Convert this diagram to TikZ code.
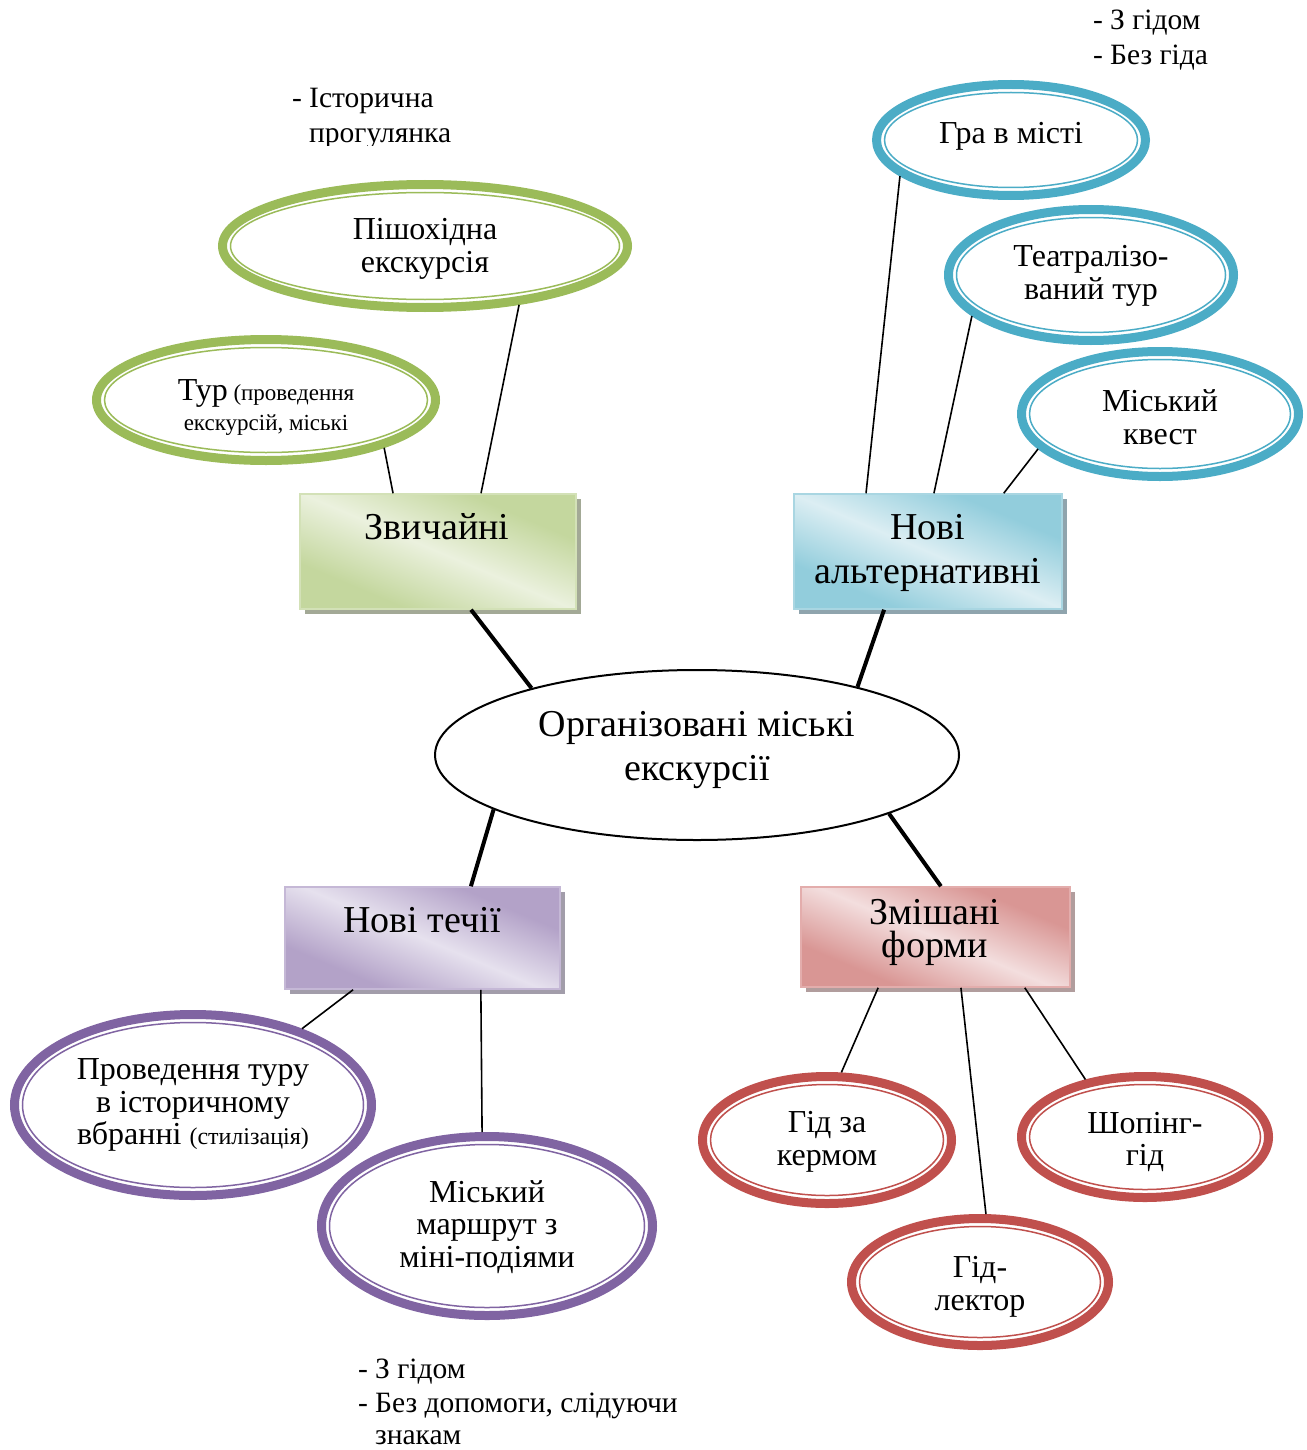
\documentclass[tikz,border=0pt]{standalone}
\usepackage{fontspec}
\setmainfont{Liberation Serif}
\usetikzlibrary{shapes.geometric,shadows,calc}
\definecolor{grnS}{HTML}{9BBB59}
\definecolor{grnD}{HTML}{C4D79E}
\definecolor{grnL}{HTML}{EBF1DE}
\definecolor{grnB}{HTML}{D3E1B7}
\definecolor{grnSh}{HTML}{A3A996}
\definecolor{bluS}{HTML}{4BACC6}
\definecolor{bluD}{HTML}{92CDDC}
\definecolor{bluL}{HTML}{DCEEF3}
\definecolor{bluB}{HTML}{A9D6E2}
\definecolor{bluSh}{HTML}{8FA4AD}
\definecolor{purS}{HTML}{8064A2}
\definecolor{purD}{HTML}{B3A2C8}
\definecolor{purL}{HTML}{E6E1EE}
\definecolor{purB}{HTML}{C5B8D6}
\definecolor{purSh}{HTML}{A29DAA}
\definecolor{redS}{HTML}{C0504D}
\definecolor{redD}{HTML}{D99694}
\definecolor{redL}{HTML}{F3DEDE}
\definecolor{redB}{HTML}{E3ADAC}
\definecolor{redSh}{HTML}{B19D9D}
\pgfdeclarehorizontalshading{shgrn}{100bp}{color(0bp)=(grnD); color(30bp)=(grnD); color(50bp)=(grnL); color(70bp)=(grnD); color(100bp)=(grnD)}
\pgfdeclarehorizontalshading{shblu}{100bp}{color(0bp)=(bluD); color(30bp)=(bluD); color(50bp)=(bluL); color(70bp)=(bluD); color(100bp)=(bluD)}
\pgfdeclarehorizontalshading{shpur}{100bp}{color(0bp)=(purD); color(30bp)=(purD); color(50bp)=(purL); color(70bp)=(purD); color(100bp)=(purD)}
\pgfdeclarehorizontalshading{shred}{100bp}{color(0bp)=(redD); color(30bp)=(redD); color(50bp)=(redL); color(70bp)=(redD); color(100bp)=(redD)}
\newcommand\fszC{\fontsize{38bp}{44bp}\selectfont}
\newcommand\fszE{\fontsize{32bp}{32.5bp}\selectfont}
\newcommand\fszS{\fontsize{23bp}{30bp}\selectfont}
\newcommand\fszB{\fontsize{29.5bp}{34.5bp}\selectfont}
\newcommand\dash{\makebox[17bp][l]{-}}
\newcommand\ringel[6]{%
  \node[ring=#6, minimum width={(2*#4-9)*1bp}, minimum height={(2*#5-9)*1bp}] (#1) at (#2,#3) {};
  \draw[#6, line width=1.5bp] (#1.center) ellipse [x radius={(#4-12.5)*1bp}, y radius={(#5-12.5)*1bp}];
}
\begin{document}
\begin{tikzpicture}[x=1bp,y=-1bp]
\tikzset{
  ring/.style={ellipse, draw=#1, line width=9bp, fill=white, inner sep=0pt},
  glass/.style={rectangle, draw=#1B, line width=1.5bp, shade, shading=sh#1, shading angle=67,
    drop shadow={shadow xshift=5bp, shadow yshift=-5bp, fill=#1Sh, opacity=1}, inner sep=0pt},
  lbl/.style={inner sep=0pt, align=center, text=black},
  bul/.style={inner sep=0pt, anchor=base west, text=black, font=\fszB},
  conthick/.style={line width=4bp, black},
  conthin/.style={line width=1.6bp, black},
}
\useasboundingbox (0,0) rectangle (1307,1450);

% centre
\node[ellipse, draw=black, line width=2bp, fill=white, minimum width=524bp, minimum height=170bp, inner sep=0pt] (ctr) at (697,755) {};
\node[lbl, font=\fszC] (ctrT) at (697,750) {Організовані міські\\екскурсії};

% boxes
\node[glass=grn, minimum width=276bp, minimum height=115bp] (zv) at (438,551.5) {};
\node[lbl, font=\fszC] (zvT) at (437,527) {Звичайні};
\node[glass=blu, minimum width=268bp, minimum height=115bp] (na) at (928,551.5) {};
\node[lbl, font=\fszC] (naT) at (928,553) {Нові\\альтернативні};
\node[glass=pur, minimum width=275bp, minimum height=102bp] (nt) at (422.5,938) {};
\node[lbl, font=\fszC] (ntT) at (422,920) {Нові течії};
\node[glass=red, minimum width=269bp, minimum height=100bp] (zf) at (935.5,937) {};
\node[lbl, font=\fszC] (zfT) at (935,932) {Змішані\\[-11bp]форми};

% green ellipses
\ringel{pish}{425}{246}{207}{66}{grnS}
\node[lbl, font=\fszE] (pishT) at (425,249) {Пішохідна\\екскурсія};
\ringel{tur}{266}{400}{174}{65}{grnS}
\node[lbl, font=\fszS] (turT) at (266,408) {{\fszE Тур} (проведення\\екскурсій, міські};

% blue ellipses
\ringel{gra}{1011}{140}{139}{60}{bluS}
\node[lbl, font=\fszE] (graT) at (1011,136) {Гра в місті};
\ringel{teat}{1091}{275}{147}{70}{bluS}
\node[lbl, font=\fszE] (teatT) at (1091,276) {Театралізо-\\ваний тур};
\ringel{kvest}{1160}{414}{143}{67}{bluS}
\node[lbl, font=\fszE] (kvestT) at (1160,417) {Міський\\квест};

% purple ellipses
\ringel{prov}{193}{1105}{183}{95}{purS}
\node[lbl, font=\fszE] (provT) at (193,1105) {Проведення туру\\в історичному\\вбранні {\fontsize{24bp}{30bp}\selectfont(стилізація)}};
\ringel{marsh}{487}{1226}{170}{94}{purS}
\node[lbl, font=\fszE] (marshT) at (487,1227) {Міський\\маршрут з\\міні-подіями};

% red ellipses
\ringel{kerm}{827}{1140}{129}{68}{redS}
\node[lbl, font=\fszE] (kermT) at (827,1142) {Гід за\\кермом};
\ringel{shop}{1145}{1137}{128}{65}{redS}
\node[lbl, font=\fszE] (shopT) at (1145,1142) {Шопінг-\\гід};
\ringel{lekt}{980}{1282}{133}{68}{redS}
\node[lbl, font=\fszE] (lektT) at (980,1287) {Гід-\\лектор};

% bullet notes
\begin{scope}
\clip (250,60) rectangle (480,146);
\node[bul] (bulA) at (292,108) {\begin{tabular}[t]{@{}l@{}}\dash Історична\\\hspace*{17bp}прогулянка\end{tabular}};
\end{scope}
\node[bul] (bulB) at (1093,30) {\begin{tabular}[t]{@{}l@{}}\dash З гідом\\\dash Без гіда\end{tabular}};
\node[bul] (bulC) at (358,1378) {\begin{tabular}[t]{@{}l@{}}\dash З гідом\\\dash Без допомоги, слідуючи\\[-3bp]\hspace*{17bp}знакам\end{tabular}};

% connectors
\draw[conthick] (ctr.158.8) -- ($(zv.south west)!0.619!(zv.south east)$);
\draw[conthick] (ctr.23.5) -- ($(na.south west)!0.337!(na.south east)$);
\draw[conthick] (ctr.195.8) -- ($(nt.north west)!0.675!(nt.north east)$);
\draw[conthick] (ctr.-17.7) -- ($(zf.north west)!0.52!(zf.north east)$);

\draw[conthin] ($(zv.north west)!0.338!(zv.north east)$) -- (tur.-22.8);
\draw[conthin] ($(zv.north west)!0.655!(zv.north east)$) -- (pish.-32.1);
\draw[conthin] ($(na.north west)!0.27!(na.north east)$) -- (gra.198.6);
\draw[conthin] ($(na.north west)!0.522!(na.north east)$) -- (teat.199.2);
\draw[conthin] ($(na.north west)!0.781!(na.north east)$) -- (kvest.196.4);
\draw[conthin] ($(nt.south west)!0.249!(nt.south east)$) -- (prov.35.2);
\draw[conthin] ($(nt.south west)!0.711!(nt.south east)$) -- (marsh.93.5);
\draw[conthin] ($(zf.south west)!0.288!(zf.south east)$) -- (kerm.78.3);
\draw[conthin] ($(zf.south west)!0.594!(zf.south east)$) -- (lekt.85.8);
\draw[conthin] ($(zf.south west)!0.830!(zf.south east)$) -- (shop.136.4);
\end{tikzpicture}
\end{document}
